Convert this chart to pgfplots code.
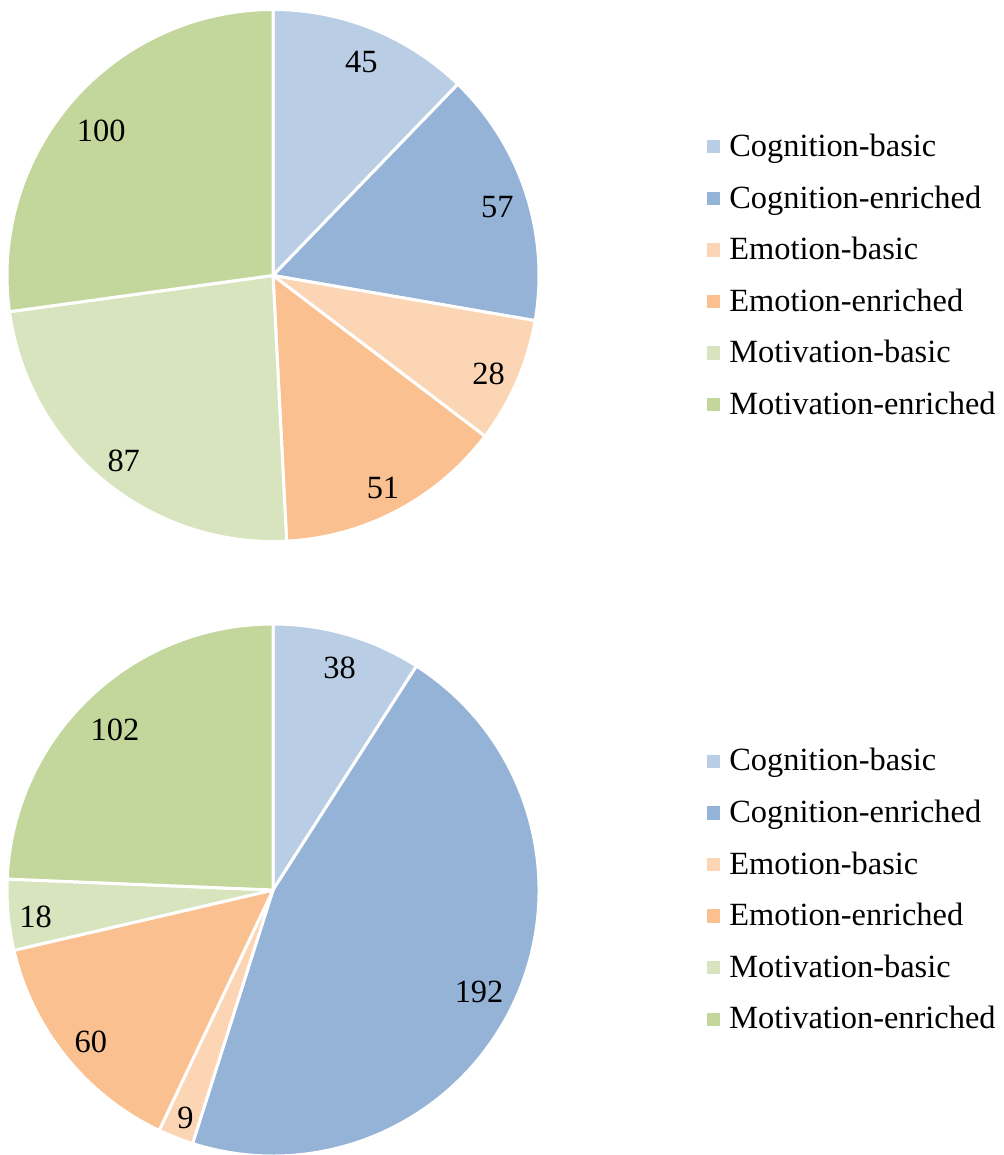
\documentclass[border=0pt]{standalone}
\usepackage{fontspec}
\setmainfont{Liberation Serif}
\usepackage{pgfplots}
\usepackage{pgfplotstable}
\pgfplotsset{compat=1.18}

\definecolor{slice0}{HTML}{B9CDE5}
\definecolor{slice1}{HTML}{95B3D7}
\definecolor{slice2}{HTML}{FCD5B5}
\definecolor{slice3}{HTML}{FAC090}
\definecolor{slice4}{HTML}{D7E4BD}
\definecolor{slice5}{HTML}{C3D69B}

\newcommand\piefont{\fontsize{32.4bp}{38bp}\selectfont}

\pgfplotstableread{
name value
Cognition-basic 45
Cognition-enriched 57
Emotion-basic 28
Emotion-enriched 51
Motivation-basic 87
Motivation-enriched 100
}\pieA

\pgfplotstableread{
name value
Cognition-basic 38
Cognition-enriched 192
Emotion-basic 9
Emotion-enriched 60
Motivation-basic 18
Motivation-enriched 102
}\pieB

\newcommand\drawpie[1]{%
  \pgfplotstablegetrowsof{#1}%
  \pgfmathtruncatemacro\lastrow{\pgfplotsretval-1}%
  \def\pietot{0}%
  \pgfplotsforeachungrouped \i in {0,...,\lastrow}{%
    \pgfplotstablegetelem{\i}{value}\of{#1}%
    \pgfmathsetmacro\pietot{\pietot+\pgfplotsretval}%
  }%
  \def\piecum{0}%
  \pgfplotsforeachungrouped \i in {0,...,\lastrow}{%
    \pgfplotstablegetelem{\i}{value}\of{#1}%
    \let\pieval\pgfplotsretval
    \pgfmathsetmacro\piesa{90-\piecum/\pietot*360}%
    \pgfmathsetmacro\piecum{\piecum+\pieval}%
    \pgfmathsetmacro\pieea{90-\piecum/\pietot*360}%
    \edef\temp{\noexpand\filldraw[fill=slice\i, draw=white, line width=3bp, line join=round]
      (axis cs:0,0) -- ++(\piesa:266bp) arc[start angle=\piesa, end angle=\pieea, radius=266bp] -- cycle;}%
    \temp
  }%
  \def\piecum{0}%
  \pgfplotsforeachungrouped \i in {0,...,\lastrow}{%
    \pgfplotstablegetelem{\i}{value}\of{#1}%
    \let\pieval\pgfplotsretval
    \pgfmathsetmacro\piesa{90-\piecum/\pietot*360}%
    \pgfmathsetmacro\piecum{\piecum+\pieval}%
    \pgfmathsetmacro\pieea{90-\piecum/\pietot*360}%
    \pgfmathsetmacro\piema{(\piesa+\pieea)/2}%
    \pgfmathtruncatemacro\piend{1+(\pieval>=10)+(\pieval>=100)}%
    \pgfmathsetmacro\piek{8.1*\piend*abs(cos(\piema))+15*abs(sin(\piema))}%
    \pgfmathsetmacro\pier{256-\piek}%
    \pgfmathsetmacro\pielx{\pier*cos(\piema)}%
    \pgfmathsetmacro\piely{\pier*sin(\piema)-5}%
    \edef\temp{\noexpand\node[font=\noexpand\piefont, inner sep=0pt] at (axis cs:\pielx,\piely) {\pieval};}%
    \temp
  }%
}

\newcommand\pielegend{%
  \addlegendimage{legend image code/.code={\fill[slice0] (0bp,-6.2bp) rectangle (12.4bp,6.2bp);}}\addlegendentry{Cognition-basic}
  \addlegendimage{legend image code/.code={\fill[slice1] (0bp,-6.2bp) rectangle (12.4bp,6.2bp);}}\addlegendentry{Cognition-enriched}
  \addlegendimage{legend image code/.code={\fill[slice2] (0bp,-6.2bp) rectangle (12.4bp,6.2bp);}}\addlegendentry{Emotion-basic}
  \addlegendimage{legend image code/.code={\fill[slice3] (0bp,-6.2bp) rectangle (12.4bp,6.2bp);}}\addlegendentry{Emotion-enriched}
  \addlegendimage{legend image code/.code={\fill[slice4] (0bp,-6.2bp) rectangle (12.4bp,6.2bp);}}\addlegendentry{Motivation-basic}
  \addlegendimage{legend image code/.code={\fill[slice5] (0bp,-6.2bp) rectangle (12.4bp,6.2bp);}}\addlegendentry{Motivation-enriched}
}

\pgfplotsset{pieaxis/.style={
  anchor=origin, x=1bp, y=1bp, hide axis, clip=false,
  xmin=-273, xmax=731,
  legend style={at={(axis cs:434,0)}, anchor=west, draw=none, fill=none,
    inner sep=0pt, outer sep=0pt, row sep=0pt, column sep=9.5bp,
    font=\piefont, nodes={inner sep=0pt, text height=35.8bp, text depth=15.8bp},
    cells={anchor=west}},
}}

\begin{document}
\begin{tikzpicture}
\path[use as bounding box] (0,0) rectangle (1004bp,1155bp);
\begin{axis}[pieaxis, at={(273bp,879.5bp)}, ymin=-302, ymax=275.5]
  \pielegend
  \drawpie{\pieA}
\end{axis}
\begin{axis}[pieaxis, at={(273bp,265bp)}, ymin=-265, ymax=312.5]
  \pielegend
  \drawpie{\pieB}
\end{axis}
\end{tikzpicture}
\end{document}
